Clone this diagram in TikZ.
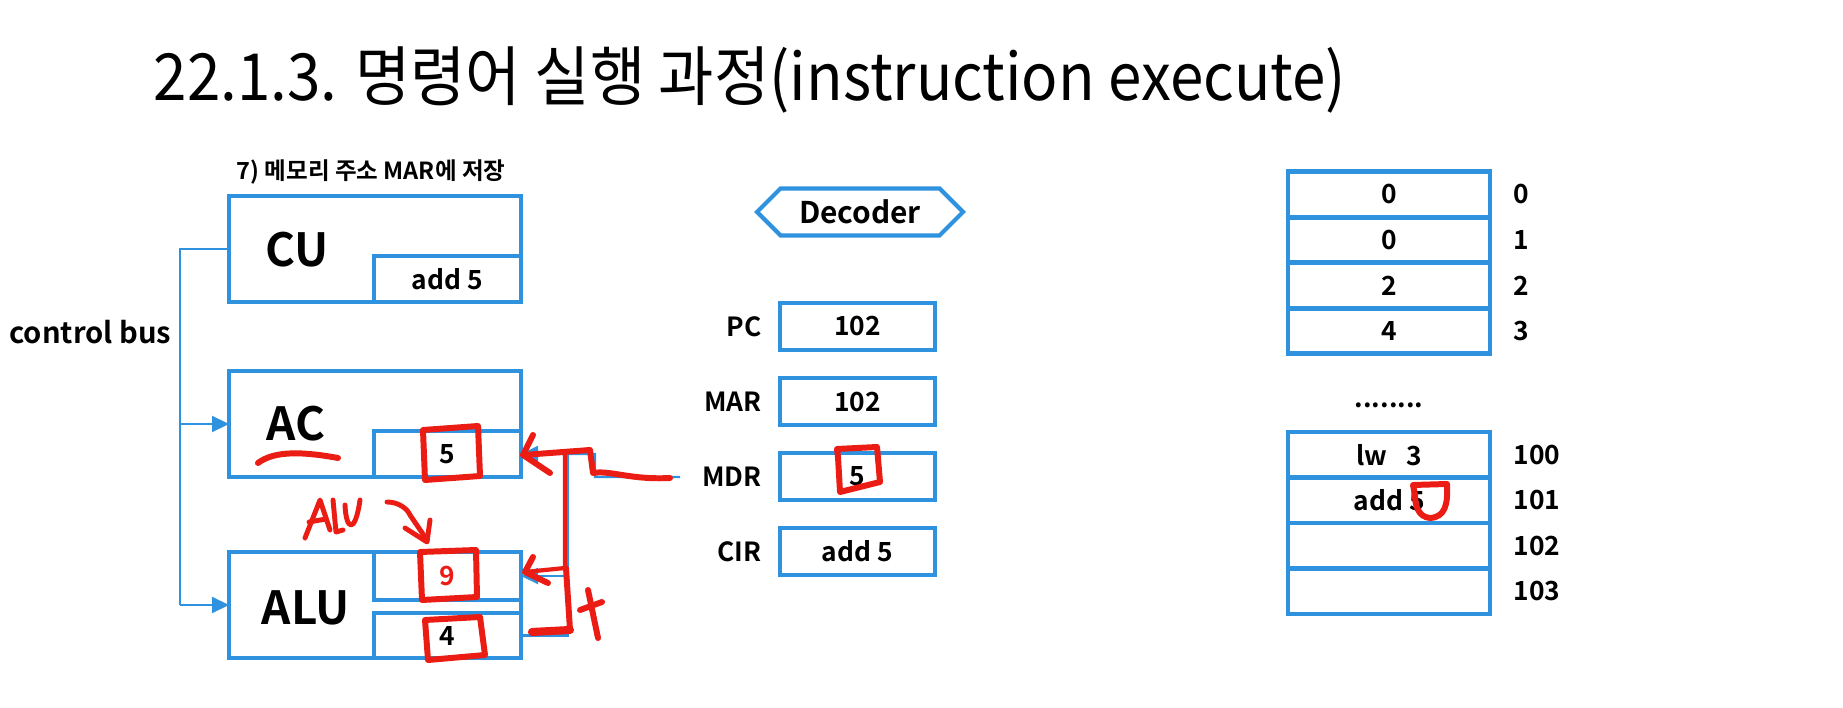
\documentclass[tikz,border=0pt]{standalone}
\usepackage{fontspec}
\setmainfont{Noto Sans CJK KR}[BoldFont={Noto Sans CJK KR Bold}]
\usepackage{tikz}
\usetikzlibrary{arrows.meta, positioning, shapes.symbols}

\definecolor{boxblue}{RGB}{46,146,222}
\definecolor{penred}{RGB}{234,28,20}

\begin{document}
\begin{tikzpicture}[
  reg/.style={rectangle, draw=boxblue, line width=1.4pt, outer sep=0pt, inner sep=0pt, font=\bfseries\fontsize{7.5}{9}\selectfont},
  unit/.style={reg, minimum width=2.92cm, minimum height=1.06cm},
  slot/.style={reg, minimum width=1.47cm},
  cell/.style={reg, minimum width=2.02cm, minimum height=0.455cm},
  big/.style={font=\bfseries\fontsize{13}{15}\selectfont},
  lbl/.style={font=\bfseries\fontsize{7.5}{9}\selectfont},
  bus/.style={draw=boxblue, line width=0.6pt},
  busarr/.style={bus, -{Triangle[length=1.7mm, width=1.6mm]}},
  pen/.style={draw=penred, line width=1.7pt, line cap=round, line join=round}
]
\useasboundingbox (0,0) rectangle (18.43,-7.08);

\node[anchor=west, inner sep=0pt, font=\fontsize{18.5}{22}\selectfont] (title) at (1.53,-0.80) {\scalebox{0.925}[1]{22.1.3. 명령어 실행 과정(instruction execute)}};

% cpu
\node[unit] (cu) at (3.75,-2.49) {};
\node[slot, minimum height=0.46cm, anchor=south east] (cuv) at (cu.south east) {add 5};
\node[big] at (2.97,-2.50) {CU};
\node[font=\bfseries\fontsize{6.7}{8}\selectfont] (subt) at (3.71,-1.72) {7) 메모리 주소 MAR에 저장};

\node[unit] (ac) at (3.75,-4.24) {};
\node[slot, minimum height=0.46cm, anchor=south east] (acv) at (ac.south east) {5};
\node[big] at (2.96,-4.24) {AC};

\node[unit] (alu) at (3.75,-6.05) {};
\node[slot, minimum height=0.48cm, anchor=north east] (aluout) at (alu.north east) {\textcolor{penred}{9}};
\node[slot, minimum height=0.45cm, anchor=south east] (aluin) at (alu.south east) {4};
\node[big] at (3.06,-6.08) {ALU};

\coordinate (bend) at (1.80,-6.05);
\draw[bus] (cu.west) -| (bend);
\draw[busarr] (bend) -- (alu.west);
\draw[busarr] (bend |- ac.west) -- (ac.west);
\node[anchor=east, inner sep=0pt, font=\bfseries\fontsize{8.3}{10}\selectfont] (cbus) at (1.72,-3.32) {control bus};

% registers
\node[signal, signal to=west and east, draw=boxblue, line width=1.2pt, minimum width=2.06cm, minimum height=0.47cm, inner sep=1pt, font=\bfseries\fontsize{8.5}{10}\selectfont] (dec) at (8.60,-2.12) {Decoder};
\node[reg, minimum width=1.55cm, minimum height=0.47cm] (pc) at (8.575,-3.265) {102};
\node[reg, minimum width=1.55cm, minimum height=0.47cm, below=0.28cm of pc] (mar) {102};
\node[reg, minimum width=1.55cm, minimum height=0.47cm, below=0.28cm of mar] (mdr) {5};
\node[reg, minimum width=1.55cm, minimum height=0.47cm, below=0.28cm of mdr] (cir) {add 5};
\foreach \r/\t in {pc/PC,mar/MAR,mdr/MDR,cir/CIR} \node[lbl, left=0.06cm of \r] {\t};

% memory
\node[cell] (m0) at (13.89,-1.945) {0};
\node[cell, below=0pt of m0] (m1) {0};
\node[cell, below=0pt of m1] (m2) {2};
\node[cell, below=0pt of m2] (m3) {4};
\node[lbl] (dots) at (13.89,-4.05) {........};
\node[cell] (m100) at (13.89,-4.5475) {lw\enspace~3};
\node[cell, below=0pt of m100] (m101) {add 5};
\node[cell, below=0pt of m101] (m102) {};
\node[cell, below=0pt of m102] (m103) {};
\foreach \c/\a in {m0/0,m1/1,m2/2,m3/3,m100/100,m101/101,m102/102,m103/103} \node[lbl, right=0.11cm of \c] {\a};

% data path
\coordinate (jmdr) at (6.80,-4.77);
\coordinate (jalu) at (5.68,-4.54);
\draw[busarr] (jmdr) -- (5.95,-4.77) -- (5.95,-4.54) -- (acv.east);
\draw[bus] (jalu) |- (aluin.east);
\draw[busarr] (jalu |- aluout.east) -- (aluout.east);

% pen notes
\draw[pen] (6.70,-4.78) .. controls (6.30,-4.80) and (6.10,-4.70) .. (5.93,-4.73) -- (5.90,-4.50) -- (5.23,-4.55);
\draw[pen] (5.33,-4.35) -- (5.23,-4.55) -- (5.50,-4.73);
\draw[pen, line width=1.2pt] (5.65,-4.52) -- (5.65,-5.68) -- (5.25,-5.72);
\draw[pen] (5.33,-5.57) -- (5.25,-5.72) -- (5.48,-5.83);
\draw[pen] (5.66,-5.68) -- (5.70,-6.30);
\draw[pen, line width=2.3pt] (5.70,-6.30) -- (5.32,-6.32);
\draw[pen] (5.88,-5.90) -- (5.98,-6.38);
\draw[pen] (5.80,-6.10) -- (6.02,-6.02);
\draw[pen] (2.58,-4.63) .. controls (2.75,-4.50) and (3.05,-4.52) .. (3.38,-4.58);
\draw[pen] (4.23,-4.30) -- (4.78,-4.26) -- (4.80,-4.76) -- (4.25,-4.80) -- cycle;
\draw[pen] (4.20,-5.52) -- (4.76,-5.50) -- (4.77,-5.97) -- (4.22,-6.00) -- cycle;
\draw[pen] (4.25,-6.20) -- (4.80,-6.17) -- (4.85,-6.55) -- (4.28,-6.60) -- cycle;
\draw[pen] (8.38,-4.57) -- (8.37,-4.49) -- (8.77,-4.47) -- (8.80,-4.82) -- (8.40,-4.92) -- cycle;
\draw[pen] (14.13,-4.85) -- (14.47,-4.84) .. controls (14.48,-5.05) and (14.45,-5.17) .. (14.30,-5.18) .. controls (14.18,-5.17) and (14.15,-5.05) .. (14.15,-4.95) -- cycle;
% ALU scribble
\draw[pen, line width=1.4pt] (3.05,-5.38) -- (3.20,-5.00) -- (3.30,-5.30);
\draw[pen, line width=1.4pt] (3.09,-5.22) -- (3.26,-5.19);
\draw[pen, line width=1.4pt] (3.33,-5.00) -- (3.36,-5.32) -- (3.43,-5.30);
\draw[pen, line width=1.4pt] (3.45,-5.05) .. controls (3.46,-5.30) and (3.55,-5.35) .. (3.60,-5.00);
\draw[pen, line width=1.4pt] (3.87,-5.02) .. controls (4.00,-5.02) and (4.08,-5.10) .. (4.10,-5.15) -- (4.27,-5.40);
\draw[pen, line width=1.4pt] (4.05,-5.28) -- (4.27,-5.42) -- (4.30,-5.20);
\end{tikzpicture}
\end{document}
